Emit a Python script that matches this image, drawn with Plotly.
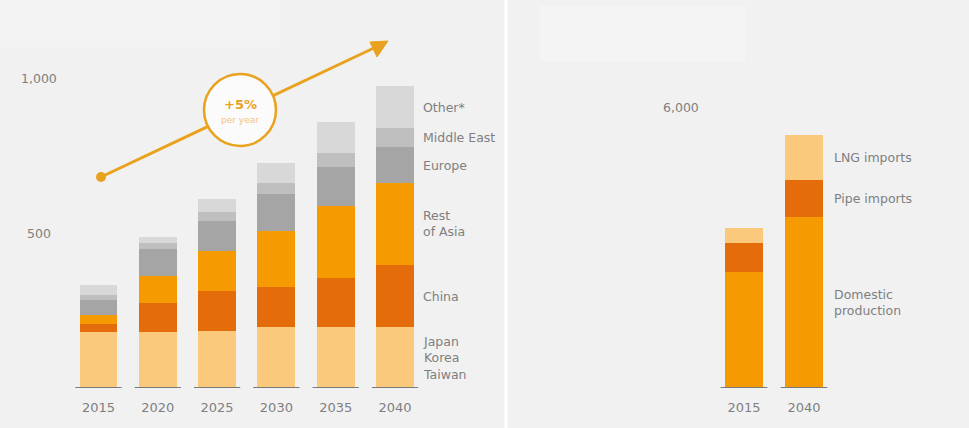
import plotly.graph_objects as go

W, H = 969, 428

# Gas demand by region (left panel)
years_left = ["2015", "2020", "2025", "2030", "2035", "2040"]
japan_korea_taiwan = [182, 182, 185, 196, 196, 196]
china = [23, 91, 128, 131, 158, 201]
rest_of_asia = [30, 88, 130, 180, 233, 265]
europe = [49, 86, 97, 119, 127, 114]
middle_east = [16, 20, 29, 35, 43, 62]
other = [32, 19, 42, 64, 102, 136]
left_ticks = [500, 1000]
left_tick_text = ["500", "1,000"]

# Supply by source (right panel)
years_right = ["2015", "2040"]
domestic = [2470, 3645]
pipe_imports = [620, 796]
lng_imports = [333, 961]
right_ticks = [6000]
right_tick_text = ["6,000"]

BG = "#f1f1f1"
TXT = "#7f7f7f"
FONT = "DejaVu Sans"

left_series = [
    ("Japan<br>Korea<br>Taiwan", japan_korea_taiwan, "#fac97c"),
    ("China", china, "#e46c0a"),
    ("Rest<br>of Asia", rest_of_asia, "#f59a00"),
    ("Europe", europe, "#a5a5a5"),
    ("Middle East", middle_east, "#bfbfbf"),
    ("Other*", other, "#d8d8d8"),
]
right_series = [
    ("Domestic<br>production", domestic, "#f59a00"),
    ("Pipe imports", pipe_imports, "#e46c0a"),
    ("LNG imports", lng_imports, "#fac97c"),
]


def px(x):
    return x / W


def py(y):
    return 1 - y / H


BASE_PX = 388
Y_DOMAIN = [1 - BASE_PX / H, 1]
LEFT_SCALE = 0.31        # px per unit
RIGHT_SCALE = 0.04683    # px per unit
BAR_W = 0.64

# x-axis ranges so that bar centres land on their slots
left_x0, left_step = 98.5, 59.3
left_dom = [0, 505 / W]
left_range = [(0 - left_x0) / left_step, (505 - left_x0) / left_step]
right_x0, right_step = 744, 60
right_dom = [510 / W, 1]
right_range = [(510 - right_x0) / right_step, (W - right_x0) / right_step]

fig = go.Figure()

for name, vals, col in left_series:
    fig.add_trace(go.Bar(
        x=list(range(len(years_left))), y=vals, name=name,
        marker=dict(color=col, line=dict(width=0)), width=BAR_W,
        xaxis="x", yaxis="y", showlegend=False, hoverinfo="skip"))

for name, vals, col in right_series:
    fig.add_trace(go.Bar(
        x=list(range(len(years_right))), y=vals, name=name,
        marker=dict(color=col, line=dict(width=0)), width=BAR_W,
        xaxis="x2", yaxis="y2", showlegend=False, hoverinfo="skip"))

shapes = []
annotations = []

# baseline strokes under each bar
for xr, yr, n in (("x", "y", len(years_left)), ("x2", "y2", len(years_right))):
    for i in range(n):
        shapes.append(dict(type="line", xref=xr, yref=yr,
                           x0=i - 0.39, x1=i + 0.39, y0=0, y1=0,
                           line=dict(color="#7a7a7a", width=2)))

# faint header panels and divider
shapes.append(dict(type="rect", xref="paper", yref="paper",
                   x0=px(0), x1=px(280), y0=py(48), y1=py(0),
                   fillcolor="#f3f3f3", line=dict(width=0), layer="below"))
shapes.append(dict(type="rect", xref="paper", yref="paper",
                   x0=px(540), x1=px(745), y0=py(62), y1=py(6),
                   fillcolor="#f4f4f4", line=dict(width=0), layer="below"))
shapes.append(dict(type="line", xref="paper", yref="paper",
                   x0=px(506), x1=px(506), y0=0, y1=1,
                   line=dict(color="#ffffff", width=3)))

# growth arrow with badge
ORANGE = "#e9a21d"
ax0, ay0, ax1, ay1 = 101, 177, 376, 47
shapes.append(dict(type="line", xref="paper", yref="paper",
                   x0=px(ax0), y0=py(ay0), x1=px(ax1), y1=py(ay1),
                   line=dict(color=ORANGE, width=3)))
tip = (388, 41)
shapes.append(dict(type="path", xref="paper", yref="paper",
                   path=f"M {px(tip[0])} {py(tip[1])} L {px(370)} {py(42)} L {px(377)} {py(57)} Z",
                   fillcolor=ORANGE, line=dict(color=ORANGE, width=1)))
shapes.append(dict(type="circle", xref="paper", yref="paper",
                   x0=px(ax0 - 5), x1=px(ax0 + 5), y0=py(ay0 + 5), y1=py(ay0 - 5),
                   fillcolor=ORANGE, line=dict(width=0)))
cx, cy, r = 240, 110, 36
shapes.append(dict(type="circle", xref="paper", yref="paper",
                   x0=px(cx - r), x1=px(cx + r), y0=py(cy + r), y1=py(cy - r),
                   fillcolor="#fbfbfb", line=dict(color=ORANGE, width=2.5)))
annotations.append(dict(xref="paper", yref="paper", x=px(cx), y=py(104),
                        xanchor="center", yanchor="middle",
                        text="<b>+5%</b>", showarrow=False,
                        font=dict(family=FONT, size=13, color="#e9a21d")))
annotations.append(dict(xref="paper", yref="paper", x=px(cx), y=py(120),
                        xanchor="center", yanchor="middle",
                        text="per year", showarrow=False,
                        font=dict(family=FONT, size=9, color="#f2c27c")))

# series labels beside the last bar, centred on its segments
def side_labels(series, xref_px, yref):
    cum = 0
    for name, vals, _ in series:
        v = vals[-1]
        annotations.append(dict(xref="paper", yref=yref, x=px(xref_px), y=cum + v / 2,
                                xanchor="left", yanchor="middle", align="left",
                                text=name, showarrow=False,
                                font=dict(family=FONT, size=12.5, color=TXT)))
        cum += v


side_labels(left_series, 421, "y")
side_labels(right_series, 832, "y2")

# value axis labels
for v, t in zip(left_ticks, left_tick_text):
    annotations.append(dict(xref="paper", yref="y", x=px(39), y=v, text=t,
                            showarrow=False, xanchor="center",
                            font=dict(family=FONT, size=12.5, color=TXT)))
for v, t in zip(right_ticks, right_tick_text):
    annotations.append(dict(xref="paper", yref="y2", x=px(681), y=v, text=t,
                            showarrow=False, xanchor="center",
                            font=dict(family=FONT, size=12.5, color=TXT)))

axis_common = dict(showgrid=False, zeroline=False, showline=False,
                   ticks="outside", ticklen=7, tickcolor="rgba(0,0,0,0)",
                   tickfont=dict(family=FONT, size=13, color=TXT), fixedrange=True)

fig.update_layout(
    width=W, height=H, margin=dict(l=0, r=0, t=0, b=0),
    paper_bgcolor=BG, plot_bgcolor="rgba(0,0,0,0)",
    barmode="stack", bargap=0,
    xaxis=dict(domain=left_dom, range=left_range, anchor="y",
               tickvals=list(range(len(years_left))), ticktext=years_left, **axis_common),
    yaxis=dict(domain=Y_DOMAIN, range=[0, BASE_PX / LEFT_SCALE], anchor="x",
               showticklabels=False, showgrid=False, zeroline=False, fixedrange=True),
    xaxis2=dict(domain=right_dom, range=right_range, anchor="y2",
                tickvals=list(range(len(years_right))), ticktext=years_right, **axis_common),
    yaxis2=dict(domain=Y_DOMAIN, range=[0, BASE_PX / RIGHT_SCALE], anchor="x2",
                showticklabels=False, showgrid=False, zeroline=False, fixedrange=True),
    shapes=shapes, annotations=annotations,
)

fig.write_html("out.html")
